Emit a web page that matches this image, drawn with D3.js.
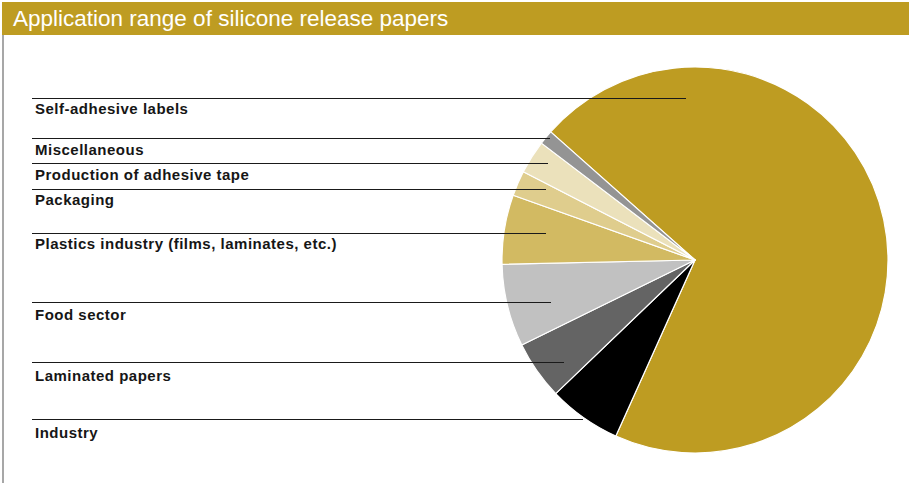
<!DOCTYPE html>
<html>
<head>
<meta charset="utf-8">
<script src="https://cdn.jsdelivr.net/npm/d3@7"></script>
<style>
  html, body { margin: 0; padding: 0; background: #fff; }
  svg { display: block; }
</style>
</head>
<body>
<svg id="chart" width="909" height="483"></svg>
<script>
// ---- data ----
const title = "Application range of silicone release papers";
const categories = [
  "Self-adhesive labels",
  "Industry",
  "Laminated papers",
  "Food sector",
  "Plastics industry (films, laminates, etc.)",
  "Packaging",
  "Production of adhesive tape",
  "Miscellaneous"
];
const shares = [70.1, 6.1, 4.9, 6.9, 5.8, 2.1, 2.8, 1.2];
const colors = ["#BE9C22", "#000000", "#646464", "#C1C1C1", "#D2BA62", "#DFCD8D", "#EBE1BB", "#949494"];

// ---- layout (annotation positions, not data): [leader y, leader end x, label baseline] ----
const labelLayout = {
  "Self-adhesive labels": [98.5, 686, 113.5],
  "Miscellaneous": [138.5, 550, 155],
  "Production of adhesive tape": [163.5, 548, 179.5],
  "Packaging": [189.5, 546, 205],
  "Plastics industry (films, laminates, etc.)": [233.5, 546, 248.5],
  "Food sector": [302.5, 551, 320],
  "Laminated papers": [362.5, 564, 381],
  "Industry": [419.5, 583, 438]
};

const svg = d3.select("#chart");
const W = 909, H = 483;

// title bar
svg.append("rect").attr("x", 2).attr("y", 2).attr("width", W - 2).attr("height", 33)
  .attr("fill", "#BE9C22");
svg.append("text").attr("x", 13).attr("y", 26)
  .attr("font-family", "Liberation Sans, Arial, Helvetica, sans-serif")
  .attr("font-size", 22.5).attr("fill", "#fff")
  .text(title);

// left border
svg.append("line").attr("x1", 3).attr("x2", 3).attr("y1", 35).attr("y2", H)
  .attr("stroke", "#8a8a8a").attr("stroke-width", 1.5);

// pie
const cx = 695, cy = 260, R = 193;
const start = -48.4 * Math.PI / 180;
const pie = d3.pie().sort(null).value(d => d.v).startAngle(start).endAngle(start + 2 * Math.PI);
const arc = d3.arc().innerRadius(0).outerRadius(R);
const data = categories.map((c, i) => ({ c, v: shares[i], col: colors[i] }));

const g = svg.append("g").attr("transform", `translate(${cx},${cy})`);
g.selectAll("path").data(pie(data)).join("path")
  .attr("d", arc)
  .attr("fill", d => d.data.col)
  .attr("stroke", "#fff").attr("stroke-width", 1.2).attr("stroke-linejoin", "round");

// labels + leader lines
const lg = svg.append("g");
categories.forEach(c => {
  const [y, x2, ty] = labelLayout[c];
  lg.append("line").attr("x1", 32).attr("x2", x2).attr("y1", y).attr("y2", y)
    .attr("stroke", "#1a1a1a").attr("stroke-width", 1);
  lg.append("text").attr("x", 35).attr("y", ty)
    .attr("font-family", "Liberation Sans, Arial, Helvetica, sans-serif")
    .attr("font-weight", "bold").attr("font-size", 15)
    .attr("letter-spacing", 0.5)
    .attr("fill", "#161616")
    .text(c);
});
</script>
</body>
</html>
